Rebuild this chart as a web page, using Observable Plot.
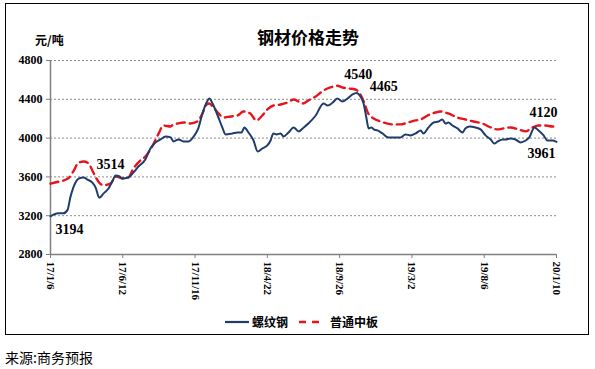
<!DOCTYPE html>
<html><head><meta charset="utf-8">
<script src="https://cdn.jsdelivr.net/npm/d3@7"></script>
<script src="https://cdn.jsdelivr.net/npm/@observablehq/plot@0.6"></script>
<style>
body{margin:0;background:#fff;width:595px;height:369px;position:relative;overflow:hidden;font-family:"Noto Sans CJK SC",sans-serif;}
#box{position:absolute;left:5px;top:3px;width:584px;height:332px;border:1px solid #000;box-sizing:border-box;}
#chart{position:absolute;left:0;top:0;}
#title{position:absolute;left:0;width:616px;top:26px;text-align:center;font-size:17px;font-weight:bold;line-height:22px;color:#000;}
#unit{position:absolute;left:35px;top:32px;font-size:12px;font-weight:bold;line-height:16px;color:#000;}
#legend{position:absolute;left:224px;top:313px;font-size:12px;font-weight:bold;line-height:18px;color:#000;display:flex;align-items:center;}
#legend span{display:inline-block}
#source{position:absolute;left:5px;top:347px;font-size:14px;line-height:20px;color:#000;}
</style>
</head><body>
<div id="box"></div>
<div id="chart"></div>
<div id="title"></div>
<div id="unit"></div>
<div id="legend"></div>
<div id="source"></div>
<script>
const titleText = "钢材价格走势";
const unitText = "元/吨";
const sourceText = "来源:商务预报";
const seriesNames = ["螺纹钢", "普通中板"];
const seriesColors = ["#1f3d6c", "#e8141c"];

const tickDateStrings = ["2017-01-06","2017-06-12","2017-11-16","2018-04-22","2018-09-26","2019-03-02","2019-08-06","2020-01-10"];
const tickLabels = ["17/1/6","17/6/12","17/11/16","18/4/22","18/9/26","19/3/2","19/8/6","20/1/10"];
const yTicks = [2800, 3200, 3600, 4000, 4400, 4800];
const yGrid = [3200, 3600, 4000, 4400, 4800];

// 螺纹钢
const rebarDates = ["2017-01-06","2017-01-23","2017-02-03","2017-02-12","2017-02-18","2017-03-01","2017-03-08","2017-03-19","2017-03-27","2017-04-07","2017-04-14","2017-04-22","2017-05-01","2017-05-12","2017-05-21","2017-05-27","2017-06-05","2017-06-11","2017-06-24","2017-07-05","2017-07-16","2017-07-31","2017-08-11","2017-08-22","2017-09-02","2017-09-13","2017-09-24","2017-09-30","2017-10-11","2017-10-22","2017-11-02","2017-11-13","2017-11-23","2017-12-02","2017-12-11","2017-12-17","2017-12-24","2018-01-04","2018-01-15","2018-01-21","2018-02-05","2018-02-16","2018-02-25","2018-03-03","2018-03-12","2018-03-23","2018-04-01","2018-04-11","2018-04-22","2018-04-29","2018-05-05","2018-05-12","2018-05-21","2018-05-27","2018-06-07","2018-06-18","2018-06-29","2018-07-10","2018-07-20","2018-08-05","2018-08-22","2018-08-31","2018-09-11","2018-09-21","2018-10-02","2018-10-13","2018-10-24","2018-11-02","2018-11-10","2018-11-17","2018-11-23","2018-11-28","2018-12-04","2018-12-09","2018-12-17","2018-12-28","2019-01-10","2019-01-21","2019-02-05","2019-02-16","2019-02-27","2019-03-10","2019-03-21","2019-03-27","2019-04-07","2019-04-18","2019-04-29","2019-05-07","2019-05-14","2019-05-20","2019-05-29","2019-06-09","2019-06-20","2019-06-26","2019-07-05","2019-07-18","2019-07-29","2019-08-09","2019-08-20","2019-08-28","2019-09-04","2019-09-15","2019-09-21","2019-10-02","2019-10-13","2019-10-24","2019-11-04","2019-11-12","2019-11-23","2019-12-02","2019-12-13","2019-12-21","2020-01-01","2020-01-10"];
const rebarValues = [3194,3225,3225,3260,3387,3540,3583,3594,3573,3540,3490,3385,3428,3480,3563,3614,3604,3583,3594,3645,3707,3780,3893,3955,3986,4017,4007,3965,3986,3965,3965,4017,4100,4254,4367,4408,4357,4233,4100,4038,4048,4058,4058,4110,4058,3975,3862,3893,3924,3975,4048,4038,4048,4017,4058,4110,4069,4110,4150,4233,4357,4336,4367,4408,4377,4408,4450,4465,4430,4357,4212,4100,4110,4090,4079,4048,4007,4007,4007,4038,4028,4048,4079,4048,4110,4161,4171,4192,4150,4161,4130,4100,4058,4100,4120,4110,4090,4028,3986,3944,3965,3986,3986,3996,3986,3955,3975,4007,4110,4079,4028,3975,3975,3961];

// 普通中板
const plateDates = ["2017-01-06","2017-01-23","2017-02-12","2017-02-25","2017-03-08","2017-03-19","2017-03-30","2017-04-09","2017-04-22","2017-05-01","2017-05-16","2017-05-29","2017-06-11","2017-06-24","2017-07-05","2017-07-20","2017-07-31","2017-08-16","2017-08-29","2017-09-08","2017-09-24","2017-09-30","2017-10-09","2017-10-22","2017-11-06","2017-11-21","2017-12-02","2017-12-11","2017-12-17","2017-12-26","2018-01-06","2018-01-17","2018-02-01","2018-02-16","2018-03-01","2018-03-16","2018-03-29","2018-04-11","2018-04-22","2018-05-05","2018-05-21","2018-06-05","2018-06-18","2018-06-29","2018-07-07","2018-07-20","2018-08-05","2018-08-22","2018-09-06","2018-09-21","2018-10-02","2018-10-15","2018-10-30","2018-11-10","2018-11-19","2018-11-26","2018-12-09","2018-12-24","2019-01-08","2019-01-21","2019-02-05","2019-02-21","2019-03-10","2019-03-21","2019-04-05","2019-04-22","2019-05-03","2019-05-20","2019-06-09","2019-06-26","2019-07-14","2019-08-02","2019-08-20","2019-09-04","2019-09-17","2019-10-02","2019-10-19","2019-11-04","2019-11-19","2019-12-02","2019-12-17","2020-01-01","2020-01-10"];
const plateValues = [3530,3550,3580,3660,3748,3758,3738,3645,3540,3514,3530,3604,3583,3594,3686,3769,3810,3924,4048,4130,4120,4141,4150,4161,4150,4171,4254,4346,4357,4316,4254,4212,4223,4233,4274,4254,4182,4233,4295,4336,4346,4367,4398,4377,4357,4388,4430,4491,4522,4540,4522,4512,4501,4450,4357,4264,4202,4171,4150,4141,4141,4161,4182,4192,4233,4264,4274,4254,4212,4192,4171,4150,4110,4090,4100,4110,4090,4069,4110,4130,4130,4120,4120];

const parse = s => new Date(s + "T00:00:00Z");
const rebar = rebarDates.map((d, i) => ({date: parse(d), value: rebarValues[i]}));
const plate = plateDates.map((d, i) => ({date: parse(d), value: plateValues[i]}));
const tickDates = tickDateStrings.map(parse);
const labelMap = new Map(tickDates.map((d, i) => [+d, tickLabels[i]]));

const maxOf = arr => arr.reduce((a, b) => b.value > a.value ? b : a);
const minOf = arr => arr.reduce((a, b) => b.value < a.value ? b : a);
const notes = [
  {p: rebar[0], dx: 19, dy: 13},
  {p: minOf(plate), dx: 7, dy: -21},
  {p: maxOf(plate), dx: 21, dy: -11},
  {p: maxOf(rebar), dx: 27, dy: -6},
  {p: plate[plate.length - 1], dx: -13, dy: -14},
  {p: rebar[rebar.length - 1], dx: -15, dy: 12}
];

const numFont = "'Liberation Serif','Times New Roman',serif";
const axisGray = "#808080";

const noteMarks = notes.map(n => Plot.text([n.p], {
  x: "date", y: "value", text: d => String(d.value), dx: n.dx, dy: n.dy,
  fontSize: 14, fontWeight: "bold", fontFamily: numFont, fill: "#000"
}));

const chart = Plot.plot({
  width: 595,
  height: 320,
  marginLeft: 50,
  marginRight: 39,
  marginTop: 60,
  marginBottom: 66,
  style: {background: "transparent", overflow: "visible"},
  x: {type: "utc", domain: [tickDates[0], tickDates[tickDates.length - 1]]},
  y: {domain: [2800, 4800]},
  marks: [
    Plot.ruleY(yGrid, {stroke: "#8c8c8c", strokeDasharray: "2,2", strokeWidth: 1}),
    Plot.ruleX([tickDates[0]], {stroke: axisGray, strokeWidth: 1.5}),
    Plot.ruleY([2800], {stroke: axisGray, strokeWidth: 1.5}),
    Plot.axisY(yTicks, {tickSize: 4, tickPadding: 4, stroke: axisGray, fill: "#000", tickFormat: d => String(d), fontSize: 12, fontWeight: "bold", fontFamily: numFont, label: null}),
    Plot.axisX(tickDates, {tickSize: 4, tickPadding: 3, tickRotate: 90, stroke: axisGray, fill: "#000", tickFormat: d => labelMap.get(+d), fontSize: 11, fontWeight: "bold", fontFamily: numFont, label: null}),
    Plot.line(plate, {x: "date", y: "value", stroke: seriesColors[1], strokeWidth: 2.4, strokeDasharray: "8,5", curve: "monotone-x"}),
    Plot.line(rebar, {x: "date", y: "value", stroke: seriesColors[0], strokeWidth: 2, curve: "monotone-x"}),
    ...noteMarks
  ]
});
document.getElementById("chart").appendChild(chart);

document.getElementById("title").textContent = titleText;
document.getElementById("unit").textContent = unitText;
document.getElementById("source").textContent = sourceText;

const lg = document.getElementById("legend");
lg.innerHTML =
  `<svg width="26" height="10"><line x1="1" y1="5" x2="25" y2="5" stroke="${seriesColors[0]}" stroke-width="2.2"/></svg>` +
  `<span style="margin-left:2px">${seriesNames[0]}</span>` +
  `<svg width="24" height="10" style="margin-left:10px"><line x1="1" y1="5" x2="22" y2="5" stroke="${seriesColors[1]}" stroke-width="2.4" stroke-dasharray="7,6"/></svg>` +
  `<span style="margin-left:8px">${seriesNames[1]}</span>`;
</script>
</body></html>
